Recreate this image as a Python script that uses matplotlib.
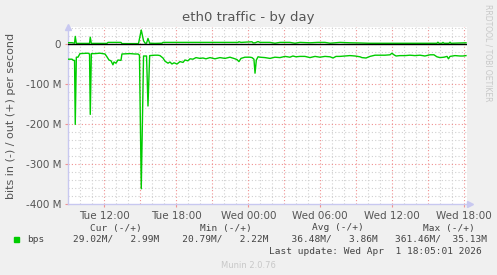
import matplotlib
matplotlib.use("Agg")
import matplotlib.pyplot as plt

# time in hours since Tue 00:00, traffic in Mbit/s
t_in = [8.98, 9.31, 9.43, 9.52, 9.58, 9.67, 9.81, 9.97, 10.64, 10.77, 10.83, 10.92,
        11.22, 11.64, 12.06, 12.22, 12.39, 12.56, 12.72, 12.81, 12.97, 13.14, 13.39,
        13.47, 14.14, 14.56, 14.81, 14.93, 15.08, 15.27, 15.52, 15.64, 15.78, 16.22,
        16.47, 16.64, 16.89, 17.06, 17.31, 17.47, 17.64, 17.81, 18.06, 18.31, 18.56,
        18.72, 18.97, 19.14, 19.39, 19.64, 19.97, 20.22, 20.47, 20.81, 21.22, 21.64,
        22.06, 22.47, 22.89, 23.06, 23.22, 23.39, 23.72, 24.14, 24.31, 24.47, 24.56,
        24.67, 24.81, 24.97, 25.39, 25.81, 26.22, 26.64, 27.06, 27.47, 27.72, 27.97,
        28.31, 28.72, 29.14, 29.56, 29.97, 30.39, 30.81, 31.06, 31.31, 31.64, 32.06,
        32.47, 32.89, 33.31, 33.47, 33.81, 34.14, 34.56, 34.97, 35.39, 35.81, 35.97,
        36.14, 36.31, 36.64, 37.06, 37.47, 37.89, 38.31, 38.72, 39.14, 39.47, 39.72,
        39.97, 40.31, 40.56, 40.68, 40.81, 41.22, 41.64, 41.89, 42.14]
bps_in = [38, 38, 41, 41, 201, 33, 33, 24, 23, 25, 176, 24,
          24, 23, 25, 32, 40, 42, 52, 45, 48, 40, 41,
          25, 24, 25, 25, 28, 362, 30, 30, 155, 29, 28,
          28, 29, 35, 43, 48, 45, 50, 47, 50, 44, 46,
          40, 42, 37, 38, 34, 36, 35, 37, 34, 37, 34,
          36, 33, 37, 39, 44, 36, 33, 33, 34, 38, 73,
          40, 32, 33, 34, 36, 33, 34, 31, 33, 30, 32,
          31, 31, 34, 31, 33, 31, 32, 35, 31, 31, 30,
          29, 30, 32, 34, 35, 31, 28, 28, 28, 27, 23,
          27, 30, 29, 29, 28, 29, 28, 30, 27, 27, 32,
          34, 33, 31, 37, 31, 29, 30, 30, 29.02]

t_out = [8.98, 9.31, 9.52, 9.58, 9.67, 10.77, 10.83, 10.92, 11.64, 12.22, 12.31,
         13.39, 13.47, 14.85, 15.08, 15.27, 15.4, 15.52, 15.64, 15.78, 16.22, 16.8,
         16.89, 23.14, 23.22, 23.39, 24.31, 24.39, 24.56, 24.81, 24.97, 25.81, 26.22,
         26.64, 27.47, 27.89, 28.31, 29.14, 29.81, 30.39, 30.81, 31.64, 32.47, 33.31,
         34.14, 39.72, 39.8, 39.89, 40.14, 40.22, 40.31, 40.72, 40.81, 40.89, 42.14]
bps_out = [3.3, 3.3, 2, 19, 1.5, 1.5, 17, 1.5, 1.5, 1.5, 4,
           4, 1, 1, 35, 8, 2, 2, 14, 2, 1.5, 2,
           4, 4, 5.5, 4, 5.5, 3, 3, 6, 4, 4, 2,
           4, 4, 2, 4, 3, 4, 4, 2, 4, 3, 2.5,
           1.8, 1.8, 4.5, 1.8, 1.8, 4, 1.8, 1.8, 4.5, 1.8, 2.99]

x_ticks = [12, 18, 24, 30, 36, 42]
x_labels = ["Tue 12:00", "Tue 18:00", "Wed 00:00", "Wed 06:00", "Wed 12:00", "Wed 18:00"]
y_ticks = [0, -100, -200, -300, -400]
y_labels = ["0", "-100 M", "-200 M", "-300 M", "-400 M"]

W, H = 497, 275
fig = plt.figure(figsize=(W / 100, H / 100), dpi=100, facecolor="#f0f0f0")
ax = fig.add_axes([68.3 / W, 1 - 204 / H, (466.7 - 68.3) / W, 177 / H])
ax.set_facecolor("white")
ax.set_xlim(9.0, 42.2)
ax.set_ylim(-400, 42.5)

# grid: minor gray every hour / 20M, major red every 3h / 100M
for h in range(10, 43):
    if h % 3 == 0:
        ax.axvline(h, color="#f09090", lw=0.8, ls=(0, (1, 2)), zorder=1)
    else:
        ax.axvline(h, color="#d0d0d0", lw=0.8, ls=(0, (1, 2)), zorder=0.5)
for v in range(-380, 41, 20):
    if v % 100 == 0:
        ax.axhline(v, color="#f09090", lw=0.8, ls=(0, (1, 2)), zorder=1)
    else:
        ax.axhline(v, color="#d0d0d0", lw=0.8, ls=(0, (1, 2)), zorder=0.5)

ax.plot(t_in, [-v for v in bps_in], color="#00cc00", lw=1.0, zorder=3)
ax.plot(t_out, bps_out, color="#00cc00", lw=1.0, zorder=3)
ax.axhline(0, color="black", lw=1.0, zorder=4)

ax.set_xticks(x_ticks)
ax.set_xticklabels(x_labels)
ax.set_yticks(y_ticks)
ax.set_yticklabels(y_labels)
ax.tick_params(axis="both", length=2, color="#f09090", labelcolor="#555555", labelsize=7.5, pad=3)
for s in ["top", "right"]:
    ax.spines[s].set_visible(False)
for s in ["left", "bottom"]:
    ax.spines[s].set_color("#c8c8f0")
    ax.spines[s].set_linewidth(1.0)

# axis arrows
ax.plot(0, 1.0, marker="^", ms=5, color="#c8c8f0", transform=ax.transAxes, clip_on=False)
ax.plot(1.008, 0, marker=">", ms=5, color="#c8c8f0", transform=ax.transAxes, clip_on=False)

ax.set_ylabel("bits in (-) / out (+) per second", fontsize=8, color="#555555")
ax.yaxis.set_label_coords(-0.132, 0.5)

def px(x, y):
    return x / W, 1 - y / H

fig.text(*px(248, 17), "eth0 traffic - by day", ha="center", va="center", fontsize=9.5, color="#555555")
fig.text(*px(488, 53), "RRDTOOL / TOBI OETIKER", ha="center", va="center", rotation=-90,
         fontsize=5.5, color="#c8c8c8")

mono = dict(family="DejaVu Sans Mono", fontsize=6.8, color="#444444", va="center")
fig.text(*px(90, 228), "Cur (-/+)", **mono)
fig.text(*px(200, 228), "Min (-/+)", **mono)
fig.text(*px(312, 228), "Avg (-/+)", **mono)
fig.text(*px(422.7, 228), "Max (-/+)", **mono)
fig.patches.append(plt.Rectangle(px(14, 242), 5 / W, 5 / H, transform=fig.transFigure,
                                 color="#00cc00", figure=fig))
fig.text(*px(27, 239.5), "bps", **mono)
fig.text(*px(73, 239.5), "29.02M/   2.99M    20.79M/   2.22M    36.48M/   3.86M   361.46M/  35.13M", **mono)
fig.text(*px(482, 251), "Last update: Wed Apr  1 18:05:01 2026", ha="right", **mono)
fig.text(*px(248, 265), "Munin 2.0.76", ha="center", va="center", fontsize=6, color="#c8c8c8")

fig.savefig("out.png", dpi=100, facecolor=fig.get_facecolor())
